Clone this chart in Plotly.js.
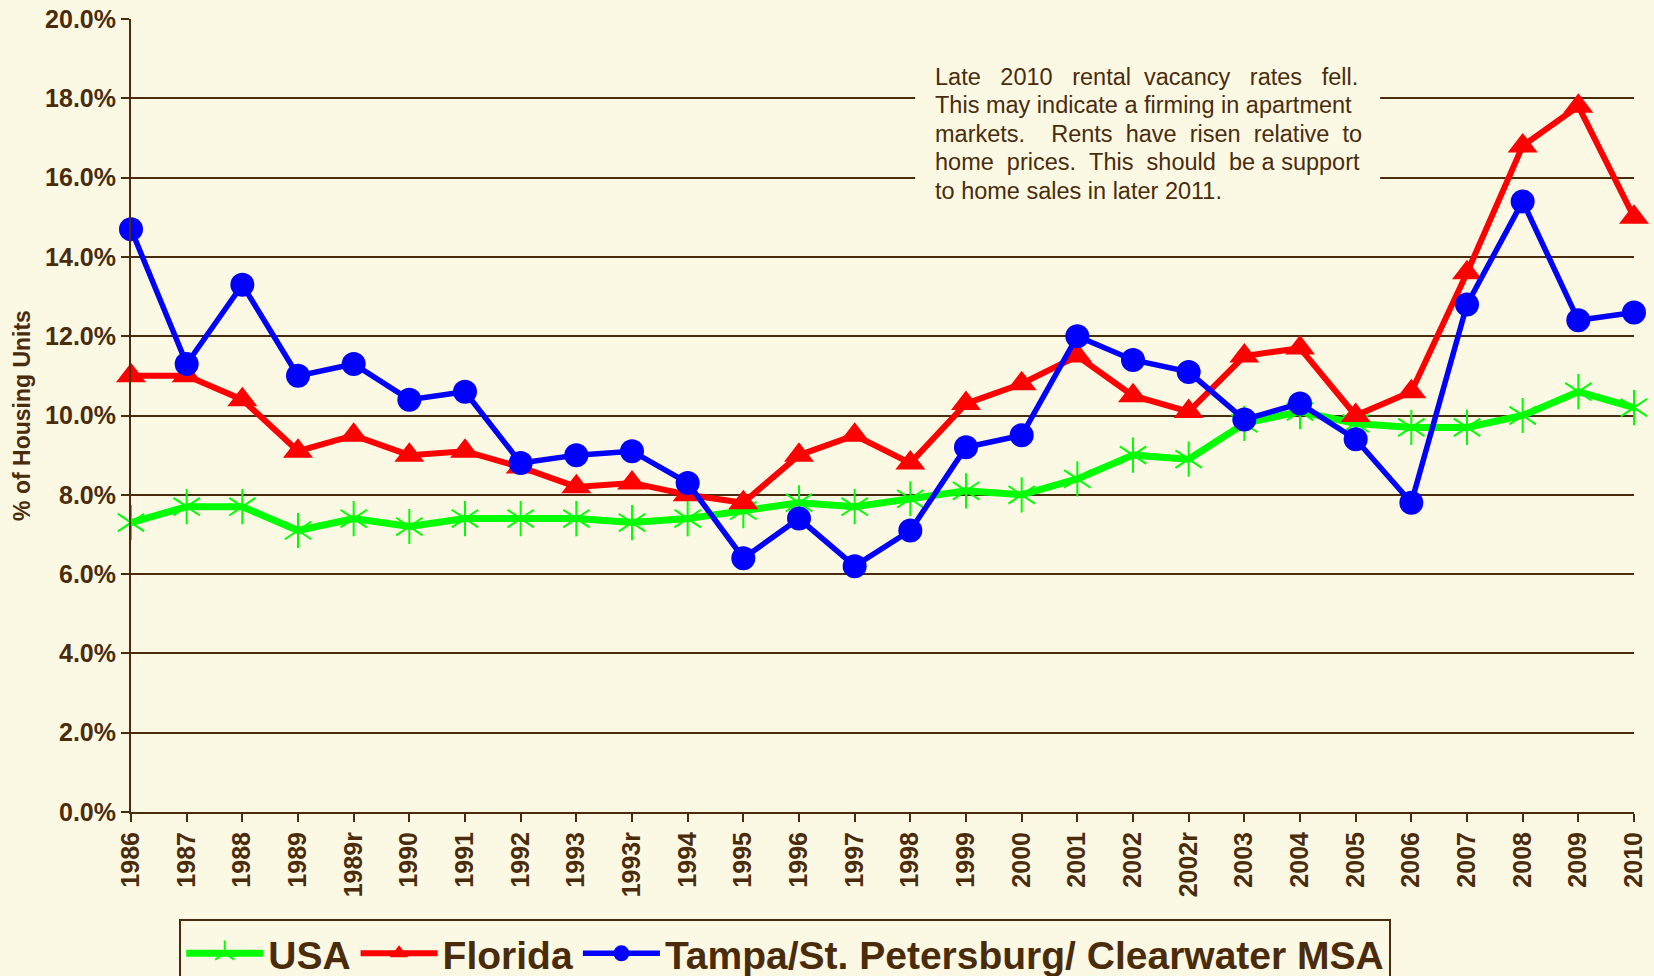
<!DOCTYPE html>
<html>
<head>
<meta charset="utf-8">
<script src="https://cdn.plot.ly/plotly-3.0.1.min.js"></script>
<style>
  html, body { margin: 0; padding: 0; background: #FBF9E3; }
  #chart { width: 1654px; height: 976px; }
</style>
</head>
<body>
<div id="chart"></div>
<script>
// ---- data ----
const years = ['1986','1987','1988','1989','1989r','1990','1991','1992','1993','1993r','1994','1995','1996','1997','1998','1999','2000','2001','2002','2002r','2003','2004','2005','2006','2007','2008','2009','2010'];
const usa = [7.3,7.7,7.7,7.1,7.4,7.2,7.4,7.4,7.4,7.3,7.4,7.6,7.8,7.7,7.9,8.1,8.0,8.4,9.0,8.9,9.8,10.1,9.8,9.7,9.7,10.0,10.6,10.2];
const florida = [11.0,11.0,10.4,9.1,9.5,9.0,9.1,8.7,8.2,8.3,8.0,7.8,9.0,9.5,8.8,10.3,10.8,11.5,10.5,10.1,11.5,11.7,10.0,10.6,13.6,16.8,17.8,15.0];
const tampa = [14.7,11.3,13.3,11.0,11.3,10.4,10.6,8.8,9.0,9.1,8.3,6.4,7.4,6.2,7.1,9.2,9.5,12.0,11.4,11.1,9.9,10.3,9.4,7.8,12.8,15.4,12.4,12.6];
const seriesNames = ['USA', 'Florida', 'Tampa/St. Petersburg/ Clearwater MSA'];
const yTitle = '% of Housing Units';
const noteLines = [
  ['Late', '2010', 'rental', 'vacancy', 'rates', 'fell.'],
  ['This', 'may', 'indicate', 'a', 'firming', 'in', 'apartment'],
  ['markets.', 'Rents', 'have', 'risen', 'relative', 'to'],
  ['home', 'prices.', 'This', 'should', 'be', 'a', 'support'],
  ['to', 'home', 'sales', 'in', 'later', '2011.']
];

// ---- style ----
const BROWN = '#4A2C0C';
const BG = '#FBF9E3';
const FONT = 'Liberation Sans, Arial, sans-serif';

// spaces between words per line (to emulate justified text)
const gaps = [
  [3,3,2,3,3],
  [1,1,1,1,1,1],
  [4,2,2,2,2],
  [2,2,2,2,1,1],
  [1,1,1,1,1]
];
function joinLine(words, g) {
  let s = words[0];
  for (let i = 1; i < words.length; i++) {
    s += ' ' + '\u00a0'.repeat(g[i-1] - 1) + words[i];
  }
  return s;
}
// note box geometry (paper fractions)
const noteX = 0.5350, noteTop = 0.9273, noteStep = 0.03592;
const noteAnnotations = noteLines.map((w, i) => ({
  xref: 'paper', yref: 'paper', x: noteX, y: noteTop - i * noteStep,
  xanchor: 'left', yanchor: 'middle', align: 'left',
  showarrow: false, borderpad: 0, borderwidth: 0,
  text: joinLine(w, gaps[i]),
  font: { family: FONT, size: 23.5, color: BROWN }
}));

const traces = [
  {
    x: years, y: usa, name: seriesNames[0], type: 'scatter', mode: 'lines+markers',
    line: { color: '#00FF00', width: 7 },
    marker: { symbol: 'y-up-open', size: 22, color: '#00FF00', line: { color: '#00FF00', width: 2 } },
    cliponaxis: false, legendgroup: 'usa'
  },
  {
    x: years, y: usa, name: seriesNames[0], type: 'scatter', mode: 'markers',
    marker: { symbol: 'y-down-open', size: 22, color: '#00FF00', line: { color: '#00FF00', width: 2 } },
    cliponaxis: false, showlegend: false, legendgroup: 'usa', hoverinfo: 'skip'
  },
  {
    x: years, y: florida, name: seriesNames[1], type: 'scatter', mode: 'lines+markers',
    line: { color: '#FF0000', width: 6 },
    marker: { symbol: 'triangle-up', size: 26, color: '#FF0000', line: { width: 0 } },
    cliponaxis: false
  },
  {
    x: years, y: tampa, name: seriesNames[2], type: 'scatter', mode: 'lines+markers',
    line: { color: '#0000FF', width: 5.5 },
    marker: { symbol: 'circle', size: 24, color: '#0000FF', line: { width: 0 } },
    cliponaxis: false
  }
];

const layout = {
  width: 1654, height: 976,
  paper_bgcolor: BG, plot_bgcolor: BG,
  font: { family: FONT, color: BROWN },
  margin: { l: 131, r: 20, t: 19, b: 164, autoexpand: false },
  showlegend: true,
  legend: {
    orientation: 'h', x: 0.0321, xanchor: 'left', y: -0.1355, yanchor: 'top',
    bgcolor: BG, bordercolor: BROWN, borderwidth: 2,
    font: { family: FONT, size: 39, color: BROWN, weight: 700 },
    itemwidth: 77, traceorder: 'normal'
  },
  xaxis: {
    type: 'category', range: [0, years.length - 1],
    showgrid: false, showline: true, linecolor: BROWN, linewidth: 2,
    ticks: 'outside', ticklen: 8, tickwidth: 2, tickcolor: BROWN,
    tickangle: -90,
    tickfont: { family: FONT, size: 25, color: BROWN, weight: 700 },
    zeroline: false
  },
  yaxis: {
    range: [0, 20], dtick: 2, tick0: 0,
    tickformat: '.1f', ticksuffix: '%',
    showgrid: true, gridcolor: BROWN, gridwidth: 2,
    showline: true, linecolor: BROWN, linewidth: 2,
    ticks: 'outside', ticklen: 8, tickwidth: 2, tickcolor: BROWN,
    tickfont: { family: FONT, size: 25, color: BROWN, weight: 700 },
    zeroline: false,
    title: { text: yTitle, font: { family: FONT, size: 23, color: BROWN, weight: 700 }, standoff: 8 }
  },
  shapes: [
    {
      type: 'rect', xref: 'paper', yref: 'paper',
      x0: 0.5217, x1: 0.8311, y0: 0.753, y1: 0.9723,
      fillcolor: BG, line: { width: 0 }, layer: 'above'
    }
  ],
  annotations: noteAnnotations
};

Plotly.newPlot('chart', traces, layout, { displayModeBar: false, staticPlot: true });
</script>
</body>
</html>
